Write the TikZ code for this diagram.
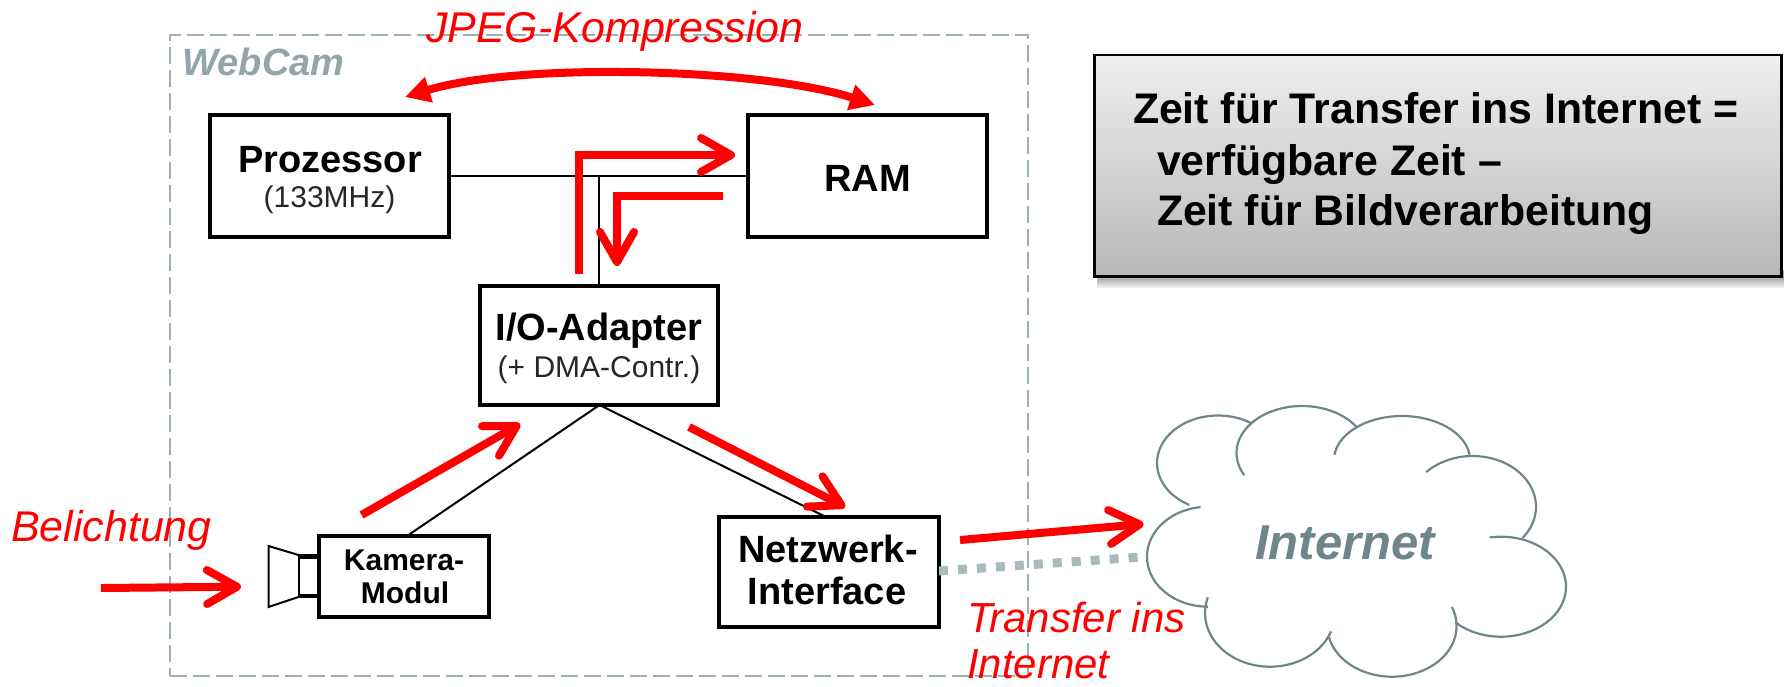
\documentclass[tikz,border=0pt]{standalone}
\usepackage{fontspec}
\setmainfont{Liberation Sans}
\usetikzlibrary{arrows.meta,calc}
\definecolor{dashgray}{HTML}{9DB0B2}
\definecolor{webgray}{HTML}{93A5A8}
\definecolor{cloudgray}{HTML}{6E8589}
\definecolor{dotgray}{HTML}{A9B9BC}
\definecolor{netred}{HTML}{FF0000}
\newcommand{\fs}[1]{\fontsize{#1}{#1}\selectfont}
\newcommand{\cloudlobe}[6]{\draw[lobe] plot[domain=#5:#6,samples=40,smooth] ({#1+#3*cos(\x)},{#2+#4*sin(\x)});}
\tikzset{
  hwbox/.style={draw=black,line width=4.5pt,inner sep=0pt,outer sep=0pt,fill=white},
  wire/.style={draw=black,line width=2pt},
  lbl/.style={inner sep=0pt,outer sep=0pt,anchor=base},
  lblw/.style={inner sep=0pt,outer sep=0pt,anchor=base west},
  title/.style={lbl,font=\bfseries\fs{38}},
  sub/.style={lbl,font=\fs{30},text=black!85},
  redlbl/.style={lblw,font=\itshape\fs{42},text=netred},
  flow/.style={draw=netred,line width=8pt,-{Straight Barb[length=30pt,width=34pt,round]}},
  lobe/.style={draw=cloudgray,line width=2.2pt},
  note/.style={lblw,font=\bfseries\fs{42.8}},
}
\begin{document}
\begin{tikzpicture}[x=1pt,y=-1pt]
\useasboundingbox (0,0) rectangle (1784,686);
% WebCam frame
\node[draw=dashgray,line width=2pt,dash pattern=on 17pt off 6pt,inner sep=0pt,outer sep=0pt,
  minimum width=858pt,minimum height=641pt] (frame) at (598.5,355.5) {};
\node[lblw,font=\bfseries\itshape\fs{38},text=webgray] (webcam) at (182.5,75) {WebCam};
% wires
\coordinate (kamtop) at (407,536);
\coordinate (nettop) at (826,517);
\coordinate (iobot) at (599.5,405);
\coordinate (bus) at (598.7,176);
% boxes
\node[hwbox,minimum width=239pt,minimum height=122pt] (proz) at (329.5,176) {};
\node[hwbox,minimum width=239pt,minimum height=122pt] (ram) at (867.5,176) {};
\node[hwbox,line width=4pt,minimum width=238pt,minimum height=119pt] (io) at (599,345.5) {};
\node[hwbox,minimum width=170pt,minimum height=81pt] (kam) at (404,576.5) {};
\node[hwbox,minimum width=220pt,minimum height=110pt] (net) at (829,572) {};
\draw[wire] (proz.east) -- (ram.west);
\draw[wire] (bus) -- (bus |- io.north);
\draw[wire] (iobot) -- (kamtop);
\draw[wire] (iobot) -- (nettop);
% camera
\coordinate (c1) at (268.5,546);
\coordinate (c2) at (298.5,555);
\coordinate (c3) at (298.5,597);
\coordinate (c4) at (268.5,607);
\draw[black,line width=2pt,line join=miter] (c2) -- (c1) -- (c4) -- (c3);
\draw[black,line width=2pt] (c2) -- (c3);
\draw[black,line width=4.5pt] (298,556.5) -- (317,556.5) (298,596) -- (317,596);
% box labels
\node[title] (t1) at (330,172) {Prozessor};
\node[sub] (t2) at (329.5,207) {(133MHz)};
\node[title] (t3) at (867.5,191.5) {RAM};
\node[title] (t4) at (599,340) {I/O-Adapter};
\node[sub] (t5) at (599,377) {(+ DMA-Contr.)};
\node[lbl,font=\bfseries\fs{30}] (t6) at (404,570) {Kamera-};
\node[lbl,font=\bfseries\fs{30}] (t7) at (405,603) {Modul};
\node[title] (t8) at (828,562) {Netzwerk-};
\node[title] (t9) at (827,604) {Interface};
% cloud
\cloudlobe{1218}{463}{61}{47.5}{118}{303}
\cloudlobe{1302}{453}{65.5}{47}{152}{328}
\cloudlobe{1402}{460}{68}{44}{187}{353}
\cloudlobe{1472.6}{506.7}{63.4}{50.7}{223}{398}
\cloudlobe{1501}{586.7}{65}{50}{260}{494}
\cloudlobe{1392}{626}{64.6}{50.7}{-22}{168}
\cloudlobe{1270}{613}{65}{53.7}{20}{197}
\cloudlobe{1208}{556.7}{61}{50}{90}{263}
\node[lbl,font=\bfseries\itshape\fs{49},text=cloudgray] (inet) at (1345,559) {Internet};
\coordinate (cloudw) at (1141.6,557);
% dotted link
\draw[dotgray,line width=9pt,dash pattern=on 9pt off 10pt] (net.east |- 0,571) -- (cloudw);
% red flows
\coordinate (jl) at (405,97);
\coordinate (jr) at (875,105);
\draw[netred,line width=8pt,{Triangle[length=25pt,width=25pt]}-{Triangle[length=25pt,width=25pt]}]
  (jl) .. controls (520,62) and (760,68) .. (jr);
\coordinate (a1) at (578.6,274);
\coordinate (a1b) at (578.6,155);
\coordinate (a1e) at (735,155);
\draw[flow,line join=miter] (a1) -- (a1b) -- (a1e);
\coordinate (a2) at (723,196);
\coordinate (a2b) at (617,196);
\coordinate (a2e) at (617,266);
\draw[flow,line join=miter] (a2) -- (a2b) -- (a2e);
\coordinate (a3) at (100.8,588);
\coordinate (a3e) at (241,586.7);
\draw[flow] (a3) -- (a3e);
\coordinate (a4) at (361.6,515);
\coordinate (a4e) at (520,424);
\draw[flow] (a4) -- (a4e);
\coordinate (a5) at (689,427);
\coordinate (a5e) at (845,507);
\draw[flow] (a5) -- (a5e);
\coordinate (a6) at (960,540);
\coordinate (a6e) at (1143.5,524);
\draw[flow] (a6) -- (a6e);
% red labels
\node[lblw,font=\itshape\fs{43},text=netred] (l1) at (426,42.7) {JPEG-Kompression};
\node[lblw,font=\itshape\fs{43},text=netred] (l2) at (11,541.7) {Belichtung};
\node[redlbl] (l3) at (967,632) {Transfer ins};
\node[redlbl] (l4) at (967,678) {Internet};
% note box shadow
\foreach \d in {2,4,6,8,10,12}{
  \fill[black,opacity=.07] (1097,270) rectangle (1783.5,276+\d);
}
% note box
\node[draw=black,line width=2.5pt,top color=black!6,bottom color=black!28,inner sep=0pt,outer sep=0pt,
  minimum width=687pt,minimum height=221.5pt] (note) at (1438,165.5) {};
\node[note] (n1) at (1133,123) {Zeit für Transfer ins Internet =};
\node[note] (n2) at (1157,175) {verfügbare Zeit –};
\node[note] (n3) at (1157,225) {Zeit für Bildverarbeitung};
\end{tikzpicture}
\end{document}
